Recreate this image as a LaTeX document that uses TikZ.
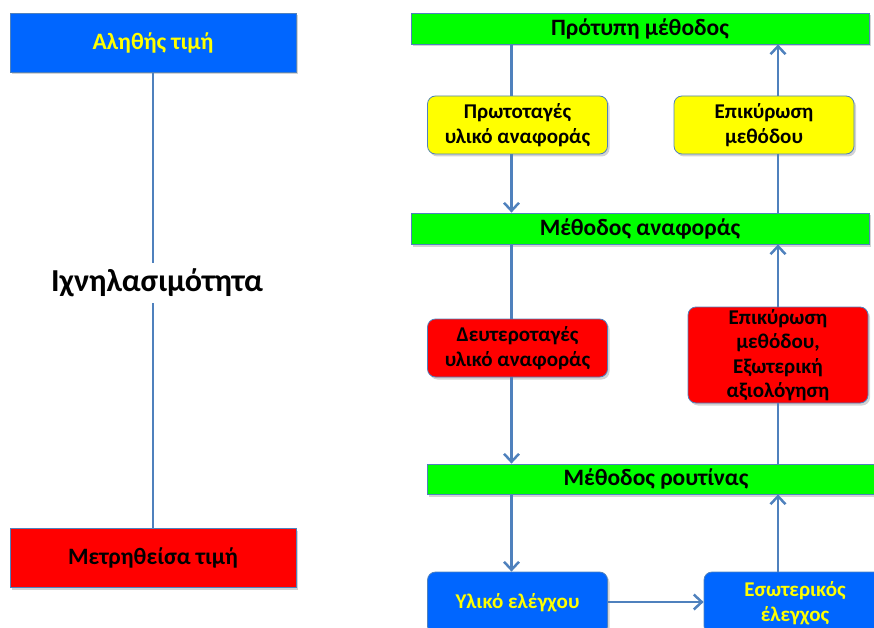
\documentclass[tikz,border=0pt]{standalone}
\usepackage{fontspec}
\setmainfont{Carlito}[BoldFont={Carlito Bold}]
\usetikzlibrary{arrows.meta,shadows}
\definecolor{lineblue}{RGB}{79,129,189}
\definecolor{boxblue}{RGB}{0,102,255}
\definecolor{boxgreen}{RGB}{0,255,0}
\definecolor{boxred}{RGB}{255,0,0}
\definecolor{boxyellow}{RGB}{255,255,0}
\definecolor{txtyellow}{RGB}{255,255,0}
\tikzset{
  box/.style={draw=lineblue, line width=0.8pt, inner sep=0pt, align=center,
    font=\bfseries\fontsize{23.5}{26}\selectfont,
    drop shadow={opacity=0.35, shadow xshift=2pt, shadow yshift=-2.5pt}},
  rbox/.style={box, rounded corners=8pt, font=\bfseries\fontsize{21}{24.5}\selectfont},
  conn/.style={draw=lineblue, line width=2.8pt},
  arr/.style={conn, -{Straight Barb[length=8pt,width=15pt,line width=2.5pt]}},
}
\begin{document}
\begin{tikzpicture}[x=1pt,y=-1pt]
\useasboundingbox (0,0) rectangle (874,628);
\clip (0,0) rectangle (874,628);
% left side
\node[box, fill=boxblue, text=txtyellow, minimum width=286pt, minimum height=59pt] (tv) at (153,42.5) {Αληθής τιμή};
\node[box, fill=boxred, text=black, minimum width=286pt, minimum height=59pt] (mv) at (153,557.5) {Μετρηθείσα τιμή};
\node[font=\bfseries\fontsize{32}{36}\selectfont, inner sep=0pt, minimum height=40pt] (tr) at (157,283) {Ιχνηλασιμότητα};
\draw[conn] (tv.south) -- (tv.south |- tr.north);
\draw[conn] (tv.south |- tr.south) -- (mv.north);
% green bars
\node[box, fill=boxgreen, minimum width=458pt, minimum height=31pt] (g1) at (640,28.5) {Πρότυπη μέθοδος};
\node[box, fill=boxgreen, minimum width=458pt, minimum height=31pt] (g2) at (640,228.5) {Μέθοδος αναφοράς};
\node[box, fill=boxgreen, minimum width=458pt, minimum height=30pt] (g3) at (656,479) {Μέθοδος ρουτίνας};
% yellow boxes
\node[rbox, fill=boxyellow, minimum width=180pt, minimum height=58pt] (y1) at (517.5,125) {Πρωτοταγές\\υλικό αναφοράς};
\node[rbox, fill=boxyellow, minimum width=180pt, minimum height=58pt] (y2) at (764,125) {Επικύρωση\\μεθόδου};
% red boxes
\node[rbox, fill=boxred, minimum width=180pt, minimum height=58pt] (r1) at (517.5,348) {Δευτεροταγές\\υλικό αναφοράς};
\node[rbox, fill=boxred, minimum width=180pt, minimum height=96pt] (r2) at (778,355) {Επικύρωση\\μεθόδου,\\Εξωτερική\\αξιολόγηση};
% blue boxes
\node[rbox, fill=boxblue, text=txtyellow, minimum width=180pt, minimum height=62pt] (b1) at (517.5,603) {Υλικό ελέγχου};
\node[rbox, fill=boxblue, text=txtyellow, minimum width=182pt, minimum height=62pt] (b2) at (795,603) {Εσωτερικός\\έλεγχος};
% left column connectors
\draw[conn] ([xshift=-6pt]y1.north |- g1.south) -- ([xshift=-6pt]y1.north);
\draw[arr] ([xshift=-6pt]y1.south) -- ([xshift=-6pt]y1.south |- g2.north);
\draw[conn] ([xshift=-6pt]r1.north |- g2.south) -- ([xshift=-6pt]r1.north);
\draw[arr] ([xshift=-6pt]r1.south) -- ([xshift=-6pt]r1.south |- g3.north);
\draw[arr] ([xshift=-6pt]b1.north |- g3.south) -- ([xshift=-6pt]b1.north);
% right column connectors
\draw[arr] (r2.north |- y2.north) -- (r2.north |- g1.south);
\draw[conn] (r2.north |- g2.north) -- (r2.north |- y2.south);
\draw[arr] (r2.north) -- (r2.north |- g2.south);
\draw[conn] (r2.south) -- (r2.south |- g3.north);
\draw[arr] (r2.south |- b2.north) -- (r2.south |- g3.south);
% bottom horizontal
\draw[arr] (b1.east) ++(0,-1) coordinate (bh) -- (bh -| b2.west);
\end{tikzpicture}
\end{document}
